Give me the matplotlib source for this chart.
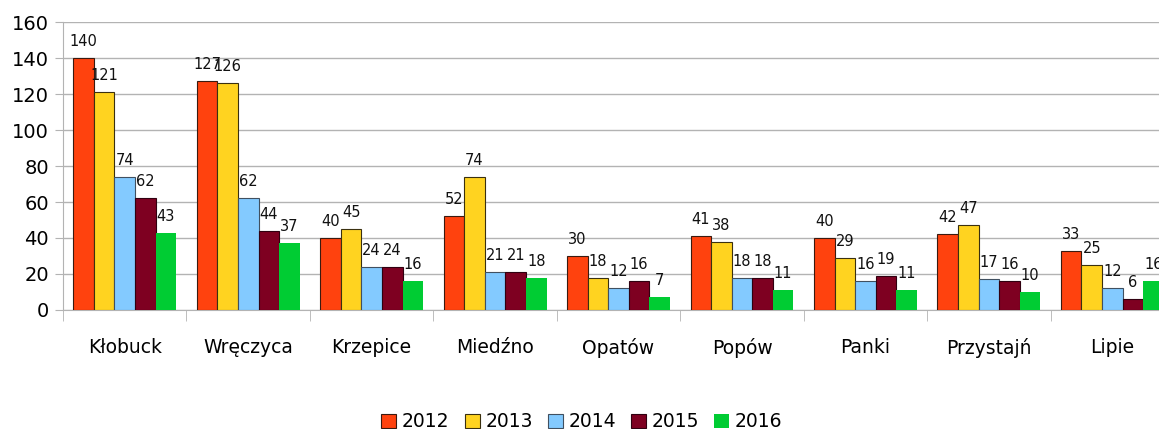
import numpy as np
import matplotlib
matplotlib.use("Agg")
import matplotlib.pyplot as plt

categories = ["Kłobuck", "Wręczyca", "Krzepice", "Miedźno", "Opatów",
              "Popów", "Panki", "Przystajń", "Lipie"]
years = ["2012", "2013", "2014", "2015", "2016"]
v2012 = [140, 127, 40, 52, 30, 41, 40, 42, 33]
v2013 = [121, 126, 45, 74, 18, 38, 29, 47, 25]
v2014 = [74, 62, 24, 21, 12, 18, 16, 17, 12]
v2015 = [62, 44, 24, 21, 16, 18, 19, 16, 6]
v2016 = [43, 37, 16, 18, 7, 11, 11, 10, 16]
series = [v2012, v2013, v2014, v2015, v2016]
colors = ["#ff420e", "#ffd320", "#83caff", "#7e0021", "#00cc33"]
edges = ["#3a1a10", "#3a3010", "#405060", "#300010", "none"]

fig = plt.figure(figsize=(11.59, 4.29), dpi=100)
ax = fig.add_axes([0.0544, 0.2774, 0.9586, 0.6713])

x = np.arange(len(categories))
w = 0.1667
for i, (vals, c, e) in enumerate(zip(series, colors, edges)):
    pos = x - 2 * w + i * w
    ax.bar(pos, vals, w, color=c, edgecolor=e, linewidth=0.8,
           label=years[i], zorder=3)
    for xp, v in zip(pos, vals):
        ax.text(xp, v + 5, str(v), ha="center", va="bottom", fontsize=10.5,
                color="#111111", zorder=4)

ax.set_xlim(-0.5, len(categories) - 0.5)
ax.set_ylim(0, 160)
ax.set_yticks(range(0, 161, 20))
ax.tick_params(axis="y", labelsize=14, length=6, color="#b3b3b3", pad=4)
ax.grid(axis="y", color="#b3b3b3", linewidth=1, zorder=0)
ax.set_xticks(x)
ax.set_xticklabels(categories, fontsize=13.5)
ax.set_xticks(np.arange(-0.5, len(categories), 1), minor=True)
ax.tick_params(axis="x", which="major", length=0, pad=20)
ax.tick_params(axis="x", which="minor", length=8, color="#b3b3b3")
for s in ["top", "right"]:
    ax.spines[s].set_visible(False)
for s in ["left", "bottom"]:
    ax.spines[s].set_color("#b3b3b3")

fig.legend(loc="lower center", bbox_to_anchor=(0.502, -0.045), ncol=5,
           frameon=False, fontsize=13.5, handlelength=0.8, handleheight=0.8,
           handletextpad=0.3, columnspacing=0.8)

fig.savefig("out.png", dpi=100)
